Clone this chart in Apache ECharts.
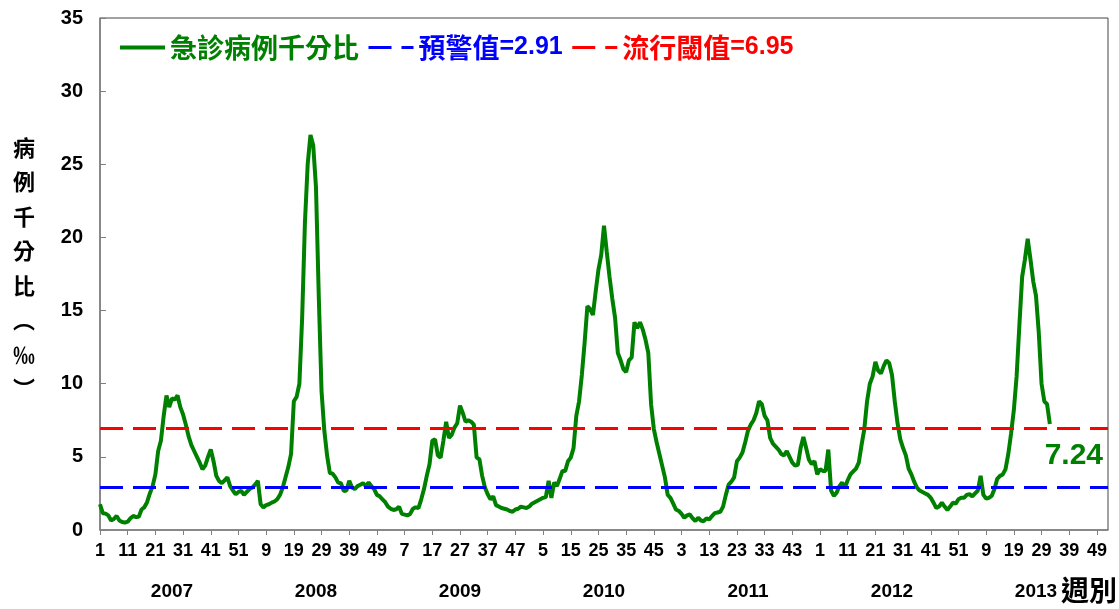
<!DOCTYPE html>
<html>
<head>
<meta charset="utf-8">
<script src="https://cdn.jsdelivr.net/npm/echarts@6/dist/echarts.min.js"></script>
<style>
html,body{margin:0;padding:0;background:#fff;}
#c{width:1119px;height:609px;}
</style>
</head>
<body>
<div id="c"></div>
<script>
// ---- data ----
const years = [2007, 2008, 2009, 2010, 2011, 2012, 2013];
const weeksPerYear = [52, 52, 52, 52, 52, 52, 53];
const yearLabelWeek = 27;
const seriesName = '急診病例千分比';
const warnName = '預警值=2.91';
const epiName = '流行閾值=6.95';
const warnValue = 2.91;
const epiValue = 6.95;
const yTicks = [0, 5, 10, 15, 20, 25, 30, 35];
// weekly values, 2007 W1 .. 2013 W33
const rate = [
1.76,1.15,1.12,1.0,0.65,0.75,0.96,0.65,0.55,0.5,
0.57,0.8,0.96,0.88,0.9,1.4,1.55,1.9,2.5,3.0,
3.8,5.4,6.1,7.8,9.2,8.4,9.0,8.9,9.2,8.4,
7.9,7.2,6.4,5.8,5.4,5.0,4.6,4.16,4.4,5.0,
5.5,4.7,3.7,3.35,3.2,3.4,3.6,3.0,2.7,2.44,
2.6,2.67,2.4,2.6,2.8,2.9,3.1,3.36,1.76,1.55,
1.7,1.76,1.87,1.95,2.1,2.4,2.9,3.6,4.3,5.2,
8.8,9.1,10.0,14.5,21.0,25.0,27.0,26.3,23.4,16.0,
9.5,6.8,5.1,3.9,3.85,3.6,3.24,3.2,2.67,2.7,
3.36,2.9,2.8,3.0,3.1,3.2,3.0,3.24,3.0,2.8,
2.4,2.3,2.1,1.9,1.6,1.45,1.37,1.42,1.6,1.1,
1.05,1.0,1.1,1.45,1.55,1.5,2.1,2.8,3.7,4.5,
6.1,6.2,5.1,4.95,6.1,7.4,6.3,6.5,7.0,7.3,
8.5,8.0,7.4,7.5,7.4,7.2,4.95,4.84,3.7,2.9,
2.44,2.1,2.3,1.7,1.6,1.5,1.45,1.4,1.3,1.25,
1.4,1.45,1.6,1.55,1.5,1.6,1.8,1.9,2.0,2.1,
2.2,2.25,3.36,2.2,3.24,3.0,3.5,4.04,4.04,4.7,
4.95,5.6,7.8,8.8,10.6,12.8,15.3,15.1,14.7,16.3,
17.8,18.8,20.8,19.0,17.3,15.8,14.5,12.1,11.6,11.0,
10.8,11.6,11.8,14.2,13.8,14.2,13.7,13.0,12.1,8.6,
6.9,6.0,5.2,4.4,3.6,2.4,2.2,1.8,1.4,1.3,
1.1,0.84,1.0,1.07,0.8,0.62,0.84,0.65,0.6,0.8,
0.72,0.95,1.15,1.2,1.25,1.6,2.4,3.1,3.3,3.6,
4.7,4.95,5.3,6.0,6.8,7.2,7.5,8.0,8.8,8.6,
7.8,7.5,6.3,5.9,5.7,5.5,5.2,5.1,5.4,5.0,
4.6,4.4,4.45,5.6,6.35,5.6,4.8,4.5,4.7,3.8,
4.16,4.04,4.04,5.5,2.7,2.33,2.55,3.0,3.24,2.9,
3.4,3.8,4.0,4.2,4.6,5.8,6.9,8.8,10.0,10.5,
11.5,10.9,10.7,11.2,11.6,11.4,10.6,8.8,7.3,6.2,
5.6,5.1,4.2,3.8,3.3,2.9,2.7,2.6,2.5,2.4,
2.2,1.87,1.5,1.6,1.87,1.6,1.37,1.6,1.87,1.8,
2.1,2.2,2.2,2.4,2.45,2.3,2.5,2.7,3.7,2.4,
2.15,2.2,2.33,2.8,3.5,3.7,3.8,4.16,5.2,6.6,
8.2,10.5,14.0,17.3,18.5,19.9,18.5,17.0,16.0,13.5,
10.0,8.8,8.6,7.24
];

// ---- build ----
const cats = [];
years.forEach((y, i) => { for (let w = 1; w <= weeksPerYear[i]; w++) cats.push(y + '-' + w); });

const green = '#008000';
const lblFont = 'Liberation Sans, Arial, sans-serif';
const cjk = '"Noto Sans CJK TC", sans-serif';
const lastIdx = rate.length - 1;

function legendFmt(name) {
  const k = name.indexOf('=');
  if (k < 0) return '{c|' + name + '}';
  return '{c|' + name.slice(0, k) + '}{n|' + name.slice(k) + '}';
}
function legendText(color) {
  return { color: color, rich: {
    c: { fontSize: 27, fontWeight: 'bold', fontFamily: cjk, color: color },
    n: { fontSize: 25, fontWeight: 'bold', fontFamily: lblFont, color: color }
  } };
}

const chart = echarts.init(document.getElementById('c'));
chart.setOption({
  animation: false,
  backgroundColor: '#fff',
  grid: { left: 100, right: 11, top: 18, bottom: 79, show: true, borderColor: '#444', borderWidth: 1, backgroundColor: 'transparent' },
  legend: {
    left: 113, top: 29, itemWidth: 45, itemHeight: 14, itemGap: 8,
    itemStyle: { opacity: 0, color: 'rgba(0,0,0,0)', borderWidth: 0 },
    formatter: legendFmt,
    data: [
      { name: seriesName, textStyle: legendText(green), lineStyle: { width: 4 } },
      { name: warnName, textStyle: legendText('#0000ff'), lineStyle: { width: 3 } },
      { name: epiName, textStyle: legendText('#ff0000'), lineStyle: { width: 3 } }
    ]
  },
  xAxis: [{
    type: 'category', data: cats, boundaryGap: false,
    axisLine: { lineStyle: { color: '#808080', width: 1.5 } },
    axisTick: { interval: 9, length: 5, lineStyle: { color: '#808080' } },
    axisLabel: { interval: 9, formatter: v => v.split('-')[1], margin: 12,
      fontSize: 18, fontWeight: 'bold', color: '#000', fontFamily: lblFont },
    splitLine: { show: false }
  }, {
    type: 'category', data: cats, boundaryGap: false, position: 'bottom',
    axisLine: { show: false }, axisTick: { show: false },
    axisLabel: { interval: (i, v) => +v.split('-')[1] === yearLabelWeek, formatter: v => v.split('-')[0],
      margin: 52, fontSize: 19, fontWeight: 'bold', color: '#000', fontFamily: lblFont },
    splitLine: { show: false }
  }],
  yAxis: {
    type: 'value', min: yTicks[0], max: yTicks[yTicks.length - 1], interval: 5,
    axisLine: { show: true, lineStyle: { color: '#808080', width: 1.5 } },
    axisTick: { show: true, inside: true, length: 6, lineStyle: { color: '#808080' } },
    axisLabel: { margin: 17, fontSize: 20, fontWeight: 'bold', color: '#000', fontFamily: lblFont },
    splitLine: { show: false }
  },
  graphic: [
    { type: 'text', left: 13, top: 130, style: { text: '病\n例\n千\n分\n比\n︵\n‰\n︶', lineHeight: 34.5, fill: '#000', font: 'bold 22px "Noto Sans CJK TC"', textAlign: 'center' } },
    { type: 'text', right: 2, top: 576, style: { text: '週別', font: 'bold 28px "Noto Sans CJK TC"', fill: '#000' } }
  ],
  series: [
    { name: seriesName, type: 'line', data: rate, symbol: 'none', smooth: false,
      lineStyle: { color: green, width: 4 }, itemStyle: { color: green }, z: 3,
      markPoint: {
        symbol: 'circle', symbolSize: 1, itemStyle: { color: 'rgba(0,0,0,0)' }, silent: true,
        label: { show: true, position: 'inside', offset: [24, 32], formatter: p => String(p.value),
          fontSize: 30, fontWeight: 'bold', color: green, fontFamily: lblFont },
        data: [{ coord: [cats[lastIdx], rate[lastIdx]], value: rate[lastIdx] }]
      } },
    { name: warnName, type: 'line', data: [], symbol: 'none',
      lineStyle: { color: '#0000ff', width: 3, type: [23, 10] }, itemStyle: { color: '#0000ff' },
      markLine: { silent: true, symbol: 'none', label: { show: false },
        lineStyle: { color: '#0000ff', width: 3, type: [23, 10] }, data: [{ yAxis: warnValue }] } },
    { name: epiName, type: 'line', data: [], symbol: 'none',
      lineStyle: { color: '#ff0000', width: 3, type: [23, 10] }, itemStyle: { color: '#ff0000' },
      markLine: { silent: true, symbol: 'none', label: { show: false },
        lineStyle: { color: '#ff0000', width: 3, type: [23, 10] }, data: [{ yAxis: epiValue }] } }
  ]
});
</script>
</body>
</html>
